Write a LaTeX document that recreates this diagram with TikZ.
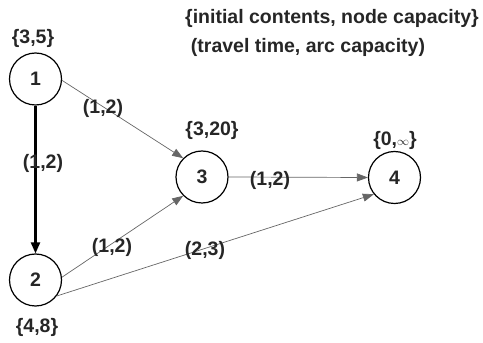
\documentclass[tikz,border=0pt]{standalone}
\usepackage{fontspec}
\setmainfont{Liberation Sans}
\usetikzlibrary{arrows.meta}
\begin{document}
\begin{tikzpicture}[x=1pt,y=1pt,
  every node/.style={font=\fontsize{19.5}{22}\selectfont\bfseries, text=black!85},
  station/.style={circle, draw=black, line width=1.2pt, minimum size=52pt, inner sep=0pt},
  lbl/.style={inner sep=0pt},
  thinarc/.style={draw=black!60, line width=0.7pt, -{Triangle[length=11pt,width=8pt]}},
  thickarc/.style={draw=black, line width=2.2pt, -{Triangle[length=11pt,width=9pt]}}]
\useasboundingbox (0,0) rectangle (483,343);
\node[station] (n1) at (35.5,264) {1};
\node[station] (n2) at (35.5,63) {2};
\node[station] (n3) at (202,166) {3};
\node[station] (n4) at (394.5,165.5) {4};
\node[lbl] (c1) at (33,305) {\{3,5\}};
\node[lbl] (c2) at (37,16) {\{4,8\}};
\node[lbl] (c3) at (212,213) {\{3,20\}};
\node[lbl] (c4) at (395,203) {\{0,{\fontsize{13}{13}\selectfont$\infty$}\}};
\node[lbl] (t1) at (332,325) {\{initial contents, node capacity\}};
\node[lbl] (t2) at (308,296) {(travel time, arc capacity)};
\draw[thickarc] (n1.south) -- (n2.north);
\draw[thinarc] (n1.-3) -- (n3.135);
\draw[thinarc] (n2.6) -- (n3.-135);
\draw[thinarc] (n2.-37) -- (n4.-141);
\draw[thinarc] (n3.east) -- (n4.west);
\node[lbl] (a12) at (43,180) {(1,2)};
\node[lbl] (a13) at (103,235) {(1,2)};
\node[lbl] (a23) at (112,96) {(1,2)};
\node[lbl] (a24) at (205,93) {(2,3)};
\node[lbl] (a34) at (270,163) {(1,2)};
\end{tikzpicture}
\end{document}
